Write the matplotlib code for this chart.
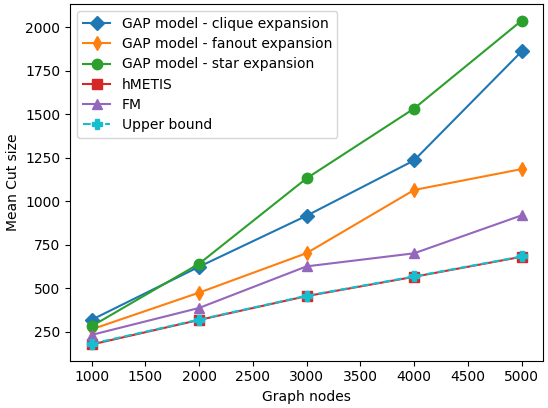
import numpy as np
import matplotlib
matplotlib.use('agg')
import matplotlib.pyplot as plt

nodes = [1000, 2000, 3000, 4000, 5000]
clique = [320, 625, 918, 1236, 1862]
fanout = [265, 476, 703, 1066, 1186]
star = [283, 642, 1133, 1534, 2039]
hmetis = [178, 319, 456, 567, 682]
fm = [233, 388, 627, 702, 920]
upper = [182, 321, 458, 569, 684]

fig = plt.figure(figsize=(5.48, 4.08), dpi=100)
ax = fig.add_subplot(111)
fig.subplots_adjust(left=0.128, right=0.991, top=0.989, bottom=0.116)

ms = 7.5
ax.plot(nodes, clique, marker='D', markersize=ms, color='tab:blue', label='GAP model - clique expansion')
ax.plot(nodes, fanout, marker='d', markersize=ms, color='tab:orange', label='GAP model - fanout expansion')
ax.plot(nodes, star, marker='o', markersize=ms, color='tab:green', label='GAP model - star expansion')
ax.plot(nodes, hmetis, marker='s', markersize=ms, color='tab:red', label='hMETIS')
ax.plot(nodes, fm, marker='^', markersize=ms, color='tab:purple', label='FM')
ax.plot(nodes, upper, marker='P', markersize=ms, linestyle='--', color='tab:cyan', label='Upper bound')

ax.set_xlabel('Graph nodes')
ax.set_ylabel('Mean Cut size')
ax.legend(loc='upper left', labelspacing=0.45)

plt.savefig('out.png')
